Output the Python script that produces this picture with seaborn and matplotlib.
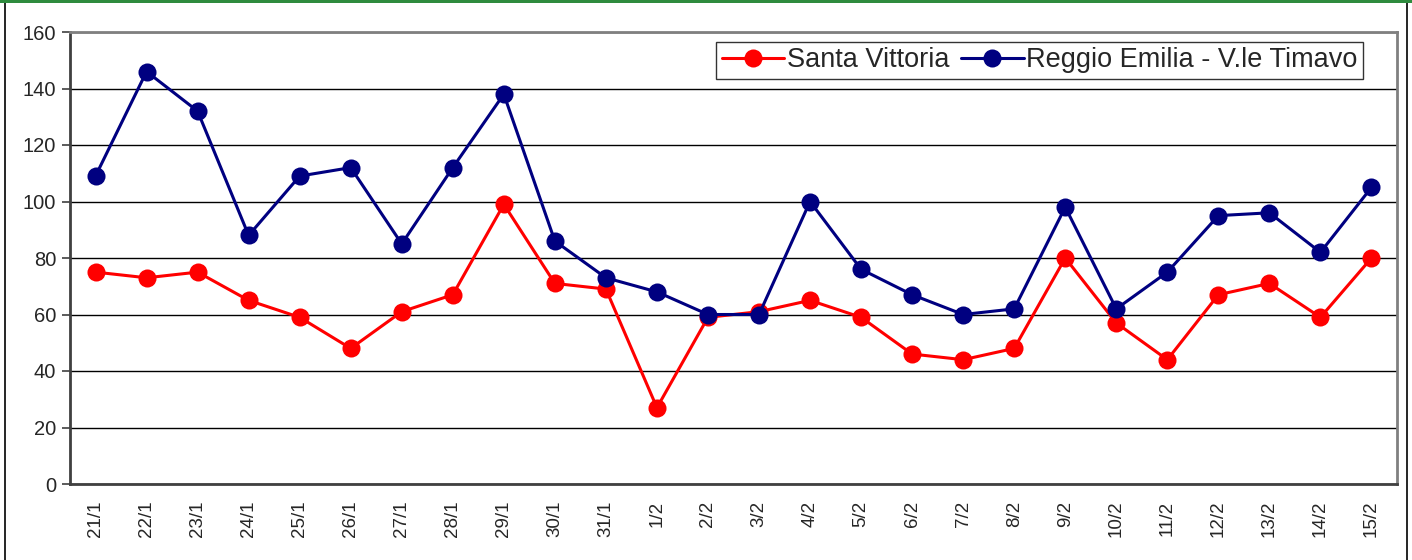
import matplotlib.pyplot as plt
import matplotlib.patches as mpatches
import seaborn as sns
import pandas as pd
import numpy as np

days = ['21/1', '22/1', '23/1', '24/1', '25/1', '26/1', '27/1', '28/1', '29/1',
        '30/1', '31/1', '1/2', '2/2', '3/2', '4/2', '5/2', '6/2', '7/2', '8/2',
        '9/2', '10/2', '11/2', '12/2', '13/2', '14/2', '15/2']
santa_vittoria = [75, 73, 75, 65, 59, 48, 61, 67, 99, 71, 69, 27, 59, 61, 65,
                  59, 46, 44, 48, 80, 57, 44, 67, 71, 59, 80]
reggio_emilia = [109, 146, 132, 88, 109, 112, 85, 112, 138, 86, 73, 68, 60, 60,
                 100, 76, 67, 60, 62, 98, 62, 75, 95, 96, 82, 105]
series_names = ['Santa Vittoria', 'Reggio Emilia - V.le Timavo']
y_ticks = [0, 20, 40, 60, 80, 100, 120, 140, 160]

df = pd.DataFrame({
    'day': days * 2,
    'value': santa_vittoria + reggio_emilia,
    'station': [series_names[0]] * len(days) + [series_names[1]] * len(days),
})

sns.set_style('white')
plt.rcParams['font.family'] = ['Liberation Sans', 'DejaVu Sans']

fig = plt.figure(figsize=(14.12, 5.6), dpi=100)
ax = fig.add_axes([70 / 1412, 1 - 484 / 560, (1397 - 70) / 1412, (484 - 32) / 560])

sns.lineplot(data=df, x='day', y='value', hue='station', sort=False,
             palette={series_names[0]: '#ff0000', series_names[1]: '#000080'},
             marker='o', markersize=13, markeredgewidth=0, linewidth=2.2, ax=ax)

ax.set_xlim(-0.5, len(days) - 0.5)
ax.set_ylim(0, 160)
ax.set_yticks(y_ticks)
ax.set_yticklabels([str(t) for t in y_ticks], fontsize=14.5)
ax.yaxis.grid(True, color='#000000', linewidth=1.0)
ax.set_axisbelow(True)

ax.set_xticks(range(len(days)))
ax.set_xticklabels(days, rotation=90, fontsize=13.5)
ax.set_xticks(np.arange(-0.5, len(days), 1.0), minor=True)
ax.tick_params(axis='x', which='major', length=0, pad=12)
ax.tick_params(axis='x', which='minor', length=6, width=1.2, color='#404040',
               direction='out')
ax.tick_params(axis='y', length=6, width=1.2, color='#404040', direction='out',
               left=True, pad=4)
ax.set_xlabel('')
ax.set_ylabel('')

for side in ['left', 'bottom']:
    ax.spines[side].set_color('#404040')
    ax.spines[side].set_linewidth(2)
for side in ['top', 'right']:
    ax.spines[side].set_color('#808080')
    ax.spines[side].set_linewidth(2)

leg = ax.legend(loc='upper right', bbox_to_anchor=(0.9744, 0.978), fontsize=19.5,
                frameon=True, fancybox=False, ncol=2, handlelength=2.3,
                handletextpad=0.1, columnspacing=0.45, borderpad=0.2,
                borderaxespad=0)
leg.get_frame().set_edgecolor('#000000')
leg.get_frame().set_linewidth(1.0)
for h in leg.legend_handles:
    h.set_markersize(13)
    h.set_linewidth(2.2)

# outer chart frame
fig.patches.append(mpatches.Rectangle((5 / 1412, -0.01), 1402 / 1412, 1.02,
                                      transform=fig.transFigure, fill=False,
                                      edgecolor='#000000', linewidth=1.2))
fig.patches.append(mpatches.Rectangle((0, 1 - 3 / 560), 1, 3 / 560,
                                      transform=fig.transFigure,
                                      facecolor='#2e8b3e', edgecolor='none'))

fig.savefig('out.png', dpi=100)
